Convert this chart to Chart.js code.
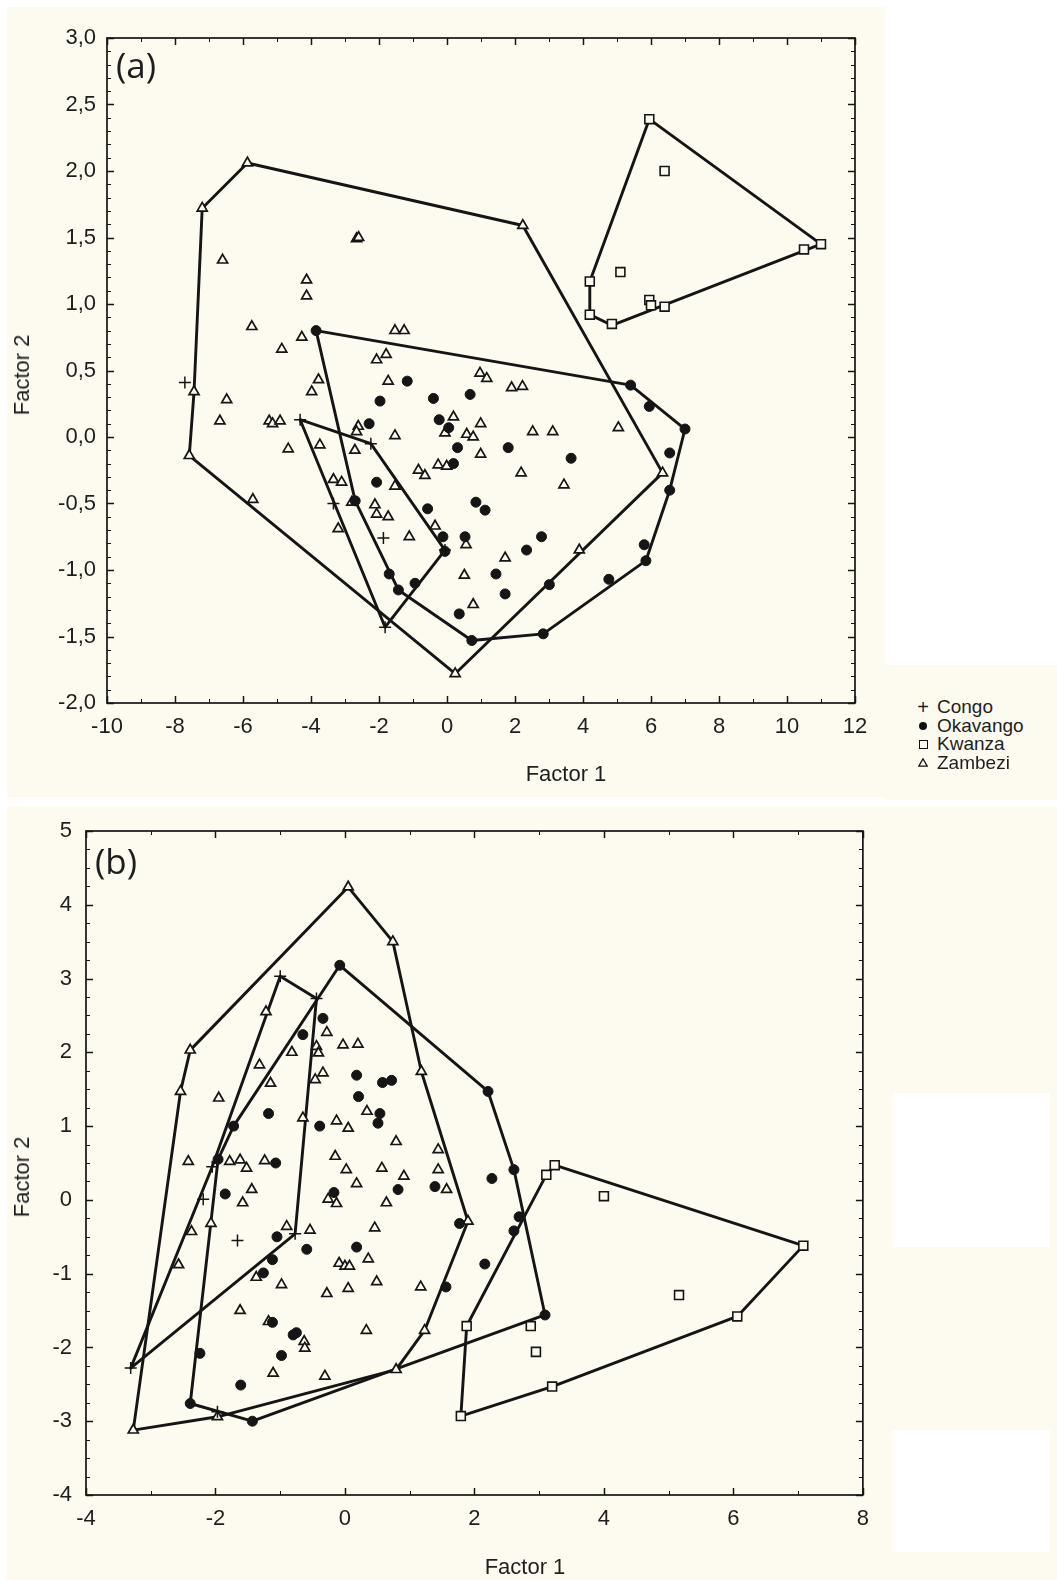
<!DOCTYPE html>
<html>
<head>
<meta charset="utf-8">
<script src="https://cdn.jsdelivr.net/npm/chart.js@4.4.1/dist/chart.umd.min.js"></script>
<style>
  html, body { margin: 0; padding: 0; background: #ffffff; }
  body { width: 1057px; height: 1580px; position: relative; overflow: hidden;
         font-family: 'Liberation Sans', Arial, sans-serif; }
  .cream { position: absolute; background: #fdfaf0; }
  .white { position: absolute; background: #ffffff; }
  canvas { position: absolute; }
  .tag { position: absolute; font-family: 'Open Sans', 'DejaVu Sans', sans-serif;
         font-size: 35px; color: #1e1e1e; line-height: 1; }
  .axt { position: absolute; font-size: 22px; color: #1e1e1e; white-space: nowrap; line-height: 1;
         transform: translate(-50%, -50%); }
  .axt.v { transform: translate(-50%, -50%) rotate(-90deg); }
  #legend { position: absolute; left: 914px; top: 698px; font-size: 19px; color: #1e1e1e; }
  #legend .row { height: 18.5px; line-height: 18.5px; display: flex; align-items: center; white-space: nowrap; }
  #legend .sym { width: 18px; height: 18.5px; display: flex; align-items: center; justify-content: center; margin-right: 5px; }
  #legend .dot { width: 8px; height: 8px; border-radius: 50%; background: #111; }
  #legend .sq { width: 7px; height: 7px; border: 1.3px solid #111; box-sizing: content-box; }
</style>
</head>
<body>
<!-- paper background -->
<div class="cream" style="left:7px;top:7px;width:878px;height:790px"></div>
<div class="cream" style="left:885px;top:665px;width:172px;height:135px"></div>
<div class="cream" style="left:7px;top:806px;width:1050px;height:774px"></div>
<div class="white" style="left:893px;top:1093px;width:157px;height:154px"></div>
<div class="white" style="left:893px;top:1430px;width:157px;height:122px"></div>

<canvas id="chartA" width="880" height="790" style="left:0;top:0"></canvas>
<canvas id="chartB" width="880" height="780" style="left:0;top:800px"></canvas>

<div class="tag" style="left:116px;top:47px">(a)</div>
<div class="tag" style="left:95px;top:843px">(b)</div>

<div class="axt" style="left:566px;top:774px">Factor 1</div>
<div class="axt v" style="left:22px;top:375px">Factor 2</div>
<div class="axt" style="left:525px;top:1567px">Factor 1</div>
<div class="axt v" style="left:22px;top:1177px">Factor 2</div>

<div id="legend">
  <div class="row"><div class="sym" style="font-size:20px">+</div>Congo</div>
  <div class="row"><div class="sym"><div class="dot"></div></div>Okavango</div>
  <div class="row"><div class="sym"><div class="sq"></div></div>Kwanza</div>
  <div class="row"><div class="sym"><svg width="10" height="9" viewBox="0 0 10 9"><polygon points="5,0.8 9.2,8.2 0.8,8.2" fill="none" stroke="#111" stroke-width="1.3"/></svg></div>Zambezi</div>
</div>

<script>
// ---------- Panel (a): factor scores, [Factor 1, Factor 2] ----------
const congoA = [[-7.71,0.41],[-4.32,0.13],[-2.24,-0.05],[-3.34,-0.50],[-1.87,-0.76],[-1.82,-1.43],[-0.06,-0.85]];

const okavangoA = [[-3.85,0.80],[-1.17,0.42],[-1.97,0.27],[-0.40,0.29],[-0.23,0.13],[-2.29,0.10],[0.05,0.07],
  [-2.07,-0.34],[-2.70,-0.48],[-0.57,-0.54],[-0.12,-0.75],[-0.06,-0.86],[-1.70,-1.03],[-1.43,-1.15],[-0.94,-1.10],
  [0.68,0.32],[0.31,-0.08],[1.80,-0.08],[3.65,-0.16],[0.19,-0.20],[5.40,0.39],[5.95,0.23],[7.00,0.06],[6.55,-0.12],
  [6.55,-0.40],[0.85,-0.49],[1.12,-0.55],[0.53,-0.75],[2.78,-0.75],[2.34,-0.85],[5.80,-0.81],[5.85,-0.93],
  [1.44,-1.03],[4.76,-1.07],[3.01,-1.11],[1.71,-1.18],[0.36,-1.33],[0.73,-1.53],[2.83,-1.48]];

const kwanzaA = [[5.95,2.39],[6.40,2.00],[11.00,1.45],[10.50,1.41],[5.10,1.24],[4.20,1.17],[4.20,0.92],
  [4.85,0.85],[5.95,1.03],[6.00,0.99],[6.40,0.98]];

const zambeziA = [[-5.87,2.06],[-7.20,1.72],[2.23,1.59],[6.34,-0.27],[0.24,-1.78],[-7.58,-0.14],[-7.44,0.34],
  [-2.66,1.49],[-2.60,1.50],[-6.60,1.33],[-4.13,1.18],[-4.13,1.06],[-5.74,0.83],[-4.27,0.75],[-1.53,0.80],
  [-1.26,0.80],[-4.86,0.66],[-2.07,0.58],[-1.79,0.62],[-3.78,0.43],[-3.98,0.34],[-1.73,0.42],[-6.48,0.28],
  [-6.68,0.12],[-5.23,0.12],[-5.13,0.10],[-4.91,0.12],[-2.61,0.08],[-2.66,0.04],[-1.53,0.01],[-4.67,-0.09],
  [-3.74,-0.06],[-2.71,-0.10],[-3.34,-0.32],[-3.10,-0.34],[-1.53,-0.37],[-0.84,-0.25],[-0.65,-0.29],
  [-0.26,-0.21],[-0.01,-0.22],[-5.71,-0.47],[-2.80,-0.49],[-2.12,-0.51],[-2.07,-0.58],[-1.73,-0.60],
  [-3.20,-0.69],[-1.11,-0.75],[-0.35,-0.67],[0.97,0.48],[1.17,0.44],[1.90,0.37],[2.22,0.38],[0.19,0.15],
  [0.99,0.10],[-0.06,0.03],[0.58,0.02],[0.77,0.00],[2.52,0.04],[3.11,0.04],[5.04,0.07],[0.99,-0.13],
  [2.18,-0.27],[3.44,-0.36],[0.56,-0.81],[1.71,-0.91],[3.89,-0.85],[0.51,-1.04],[0.77,-1.26]];

// group outlines (closed polygons)
const hullCongoA    = [[-4.32,0.13],[-2.24,-0.05],[-0.06,-0.85],[-1.82,-1.43],[-4.32,0.13]];
const hullOkavangoA = [[-3.85,0.80],[5.40,0.39],[7.00,0.06],[6.55,-0.40],[5.85,-0.93],[2.83,-1.48],
                       [0.73,-1.53],[-1.43,-1.15],[-2.70,-0.48],[-3.85,0.80]];
const hullKwanzaA   = [[5.95,2.39],[11.00,1.45],[4.85,0.84],[4.20,0.92],[4.20,1.17],[5.95,2.39]];
const hullZambeziA  = [[-5.87,2.06],[2.23,1.59],[6.34,-0.27],[0.24,-1.78],[-7.58,-0.14],[-7.44,0.34],
                       [-7.20,1.72],[-5.87,2.06]];

// ---------- Panel (b) ----------
const congoB = [[-1.00,3.03],[-0.44,2.73],[-2.05,0.45],[-2.19,0.01],[-1.66,-0.55],[-0.77,-0.46],[-3.31,-2.28],[-1.97,-2.87]];

const okavangoB = [[-0.08,3.18],[-0.34,2.46],[-0.65,2.24],[0.18,1.69],[0.21,1.40],[0.58,1.59],[0.72,1.62],
  [-1.18,1.17],[-0.39,1.00],[0.54,1.17],[0.51,1.04],[-1.72,1.00],[-1.96,0.55],[-1.07,0.50],[2.21,1.47],
  [2.61,0.41],[2.27,0.29],[-1.85,0.08],[-0.17,0.10],[0.82,0.14],[1.39,0.18],[-1.05,-0.50],[-0.59,-0.67],
  [0.18,-0.64],[-1.12,-0.81],[-1.26,-0.99],[-1.12,-1.66],[-0.75,-1.80],[-0.80,-1.83],[-0.98,-2.11],
  [-2.24,-2.08],[-1.61,-2.51],[-2.39,-2.76],[-1.43,-3.00],[1.77,-0.32],[2.69,-0.23],[2.61,-0.42],
  [2.16,-0.87],[1.56,-1.18],[3.09,-1.56]];

const kwanzaB = [[3.24,0.47],[3.11,0.34],[4.00,0.05],[7.08,-0.62],[5.16,-1.29],[6.06,-1.58],[2.87,-1.71],
  [1.88,-1.71],[2.95,-2.06],[3.20,-2.53],[1.79,-2.93]];

const zambeziB = [[0.05,4.24],[0.74,3.50],[-2.39,2.03],[-2.54,1.47],[1.18,1.74],[-1.22,2.55],[-0.28,2.27],
  [-0.82,2.00],[-0.44,2.08],[-0.41,1.99],[-0.03,2.10],[0.20,2.11],[-1.32,1.83],[-1.15,1.58],[-0.34,1.72],
  [-0.46,1.63],[-1.95,1.38],[-0.65,1.11],[-0.13,1.07],[0.05,0.97],[0.34,1.20],[0.79,0.79],[1.44,0.68],
  [-2.42,0.52],[-1.78,0.52],[-1.62,0.54],[-1.52,0.43],[-1.24,0.53],[-0.15,0.59],[0.02,0.41],[0.57,0.43],
  [0.91,0.32],[1.44,0.41],[0.18,0.22],[-1.44,0.14],[-1.58,-0.04],[-0.26,0.01],[-0.13,-0.05],[0.64,-0.04],
  [1.57,0.14],[-2.37,-0.43],[-2.07,-0.32],[-2.57,-0.88],[-0.90,-0.36],[-0.54,-0.41],[0.46,-0.38],
  [-0.09,-0.86],[0.00,-0.90],[0.07,-0.90],[0.36,-0.80],[-1.37,-1.05],[-0.98,-1.15],[-0.28,-1.27],
  [0.05,-1.20],[0.49,-1.11],[1.17,-1.18],[-1.62,-1.50],[-1.18,-1.65],[-0.63,-1.92],[-0.62,-2.01],
  [0.33,-1.77],[1.23,-1.77],[-1.11,-2.35],[-0.31,-2.39],[0.79,-2.30],[-1.97,-2.94],[-3.27,-3.12],[1.90,-0.29]];

const hullCongoB    = [[-1.00,3.03],[-0.44,2.73],[-0.77,-0.46],[-3.31,-2.28],[-2.05,0.45],[-1.00,3.03]];
const hullOkavangoB = [[-0.08,3.18],[2.21,1.47],[2.61,0.41],[3.09,-1.56],[-1.43,-3.00],[-2.39,-2.76],
                       [-1.96,0.55],[-1.72,1.00],[-0.08,3.18]];
const hullKwanzaB   = [[3.24,0.47],[7.08,-0.62],[6.06,-1.58],[3.20,-2.53],[1.79,-2.93],[1.88,-1.71],
                       [3.11,0.34],[3.24,0.47]];
const hullZambeziB  = [[0.05,4.24],[0.74,3.50],[1.18,1.74],[1.90,-0.29],[1.23,-1.77],[0.79,-2.30],
                       [-1.97,-2.94],[-3.27,-3.12],[-2.54,1.47],[-2.39,2.03],[0.05,4.24]];

// axis ranges and tick steps
const axisA = { xMin: -10, xMax: 12, xStep: 2, xMinor: 1, yMin: -2, yMax: 3, yStep: 0.5, yMinor: 0.1 };
const axisB = { xMin: -4, xMax: 8, xStep: 2, xMinor: 1, yMin: -4, yMax: 5, yStep: 1, yMinor: 0.25 };

// ---------- drawing ----------
const INK = '#151515';
const PAPER = '#fdfaf0';
const FONT = "'Liberation Sans', Arial, sans-serif";

const toXY = arr => arr.map(([x, y]) => ({ x, y }));

function pointSets(congo, okavango, kwanza, zambezi) {
  return [
    { label: 'Congo', data: toXY(congo), pointStyle: 'cross', pointRadius: 6,
      borderColor: INK, backgroundColor: INK, pointBorderWidth: 1.5, showLine: false },
    { label: 'Okavango', data: toXY(okavango), pointStyle: 'circle', pointRadius: 5,
      borderColor: INK, backgroundColor: INK, pointBorderWidth: 1, showLine: false },
    { label: 'Kwanza', data: toXY(kwanza), pointStyle: 'rect', pointRadius: 6.3,
      borderColor: INK, backgroundColor: PAPER, pointBorderWidth: 1.6, showLine: false },
    { label: 'Zambezi', data: toXY(zambezi), pointStyle: 'triangle', pointRadius: 5.8,
      borderColor: INK, backgroundColor: PAPER, pointBorderWidth: 1.7, showLine: false }
  ];
}

function hullSets(hulls) {
  return hulls.map(h => ({
    label: 'outline', data: toXY(h), showLine: true, fill: false, tension: 0,
    borderColor: INK, borderWidth: 2.9, pointRadius: 0, borderJoinStyle: 'round', borderCapStyle: 'round'
  }));
}

// frame around the plot with inward major and minor ticks on all four sides
const frameTicks = {
  id: 'frameTicks',
  afterDraw(chart, args, o) {
    const { ctx, chartArea: a } = chart;
    const xs = chart.scales.x, ys = chart.scales.y;
    ctx.save();
    ctx.strokeStyle = INK;
    const seg = (x1, y1, x2, y2) => { ctx.beginPath(); ctx.moveTo(x1, y1); ctx.lineTo(x2, y2); ctx.stroke(); };
    const isMajor = (v, min, step) => Math.abs(((v - min) / step) - Math.round((v - min) / step)) < 1e-6;
    const nx = Math.round((o.xMax - o.xMin) / o.xMinor);
    for (let i = 0; i <= nx; i++) {
      const v = o.xMin + i * o.xMinor;
      const p = Math.round(xs.getPixelForValue(v)) + 0.5;
      const major = isMajor(v, o.xMin, o.xStep);
      const len = major ? 7 : 4;
      ctx.lineWidth = major ? 1.5 : 1;
      seg(p, a.bottom, p, a.bottom - len);
      seg(p, a.top, p, a.top + len);
    }
    const ny = Math.round((o.yMax - o.yMin) / o.yMinor);
    for (let i = 0; i <= ny; i++) {
      const v = o.yMin + i * o.yMinor;
      const p = Math.round(ys.getPixelForValue(v)) + 0.5;
      const major = isMajor(v, o.yMin, o.yStep);
      const len = major ? 7 : 4;
      ctx.lineWidth = major ? 1.5 : 1;
      seg(a.left, p, a.left + len, p);
      seg(a.right, p, a.right - len, p);
    }
    ctx.lineWidth = 1.7;
    ctx.strokeRect(a.left, a.top, a.right - a.left, a.bottom - a.top);
    ctx.restore();
  }
};

function makeChart(id, sets, ax, geo, yFmt) {
  return new Chart(document.getElementById(id), {
    type: 'scatter',
    data: { datasets: sets },
    plugins: [frameTicks],
    options: {
      responsive: false, animation: false, devicePixelRatio: 1,
      layout: { padding: { top: geo.top, right: geo.right, bottom: 0, left: 0 } },
      plugins: { legend: { display: false }, tooltip: { enabled: false }, frameTicks: ax },
      scales: {
        x: {
          type: 'linear', min: ax.xMin, max: ax.xMax,
          grid: { display: false, drawTicks: false }, border: { display: false },
          ticks: { stepSize: ax.xStep, autoSkip: false, maxRotation: 0, padding: geo.xPad,
                   color: '#1e1e1e', font: { family: FONT, size: 22 }, callback: v => String(v) },
          title: { display: false },
          afterFit: s => { s.height = geo.xH; }
        },
        y: {
          type: 'linear', min: ax.yMin, max: ax.yMax,
          grid: { display: false, drawTicks: false }, border: { display: false },
          ticks: { stepSize: ax.yStep, autoSkip: false, padding: geo.yPad,
                   color: '#1e1e1e', font: { family: FONT, size: 22 }, callback: yFmt },
          title: { display: false },
          afterFit: s => { s.width = geo.yW; }
        }
      }
    }
  });
}

makeChart('chartA',
  pointSets(congoA, okavangoA, kwanzaA, zambeziA).concat(hullSets([hullCongoA, hullOkavangoA, hullKwanzaA, hullZambeziA])),
  axisA,
  { top: 38, right: 25, yW: 107, xH: 87, xPad: 11, yPad: 11 },
  v => Number(v).toFixed(1).replace('.', ','));

makeChart('chartB',
  pointSets(congoB, okavangoB, kwanzaB, zambeziB).concat(hullSets([hullCongoB, hullOkavangoB, hullKwanzaB, hullZambeziB])),
  axisB,
  { top: 31, right: 17, yW: 86, xH: 85, xPad: 11, yPad: 14 },
  v => String(v));
</script>
</body>
</html>
